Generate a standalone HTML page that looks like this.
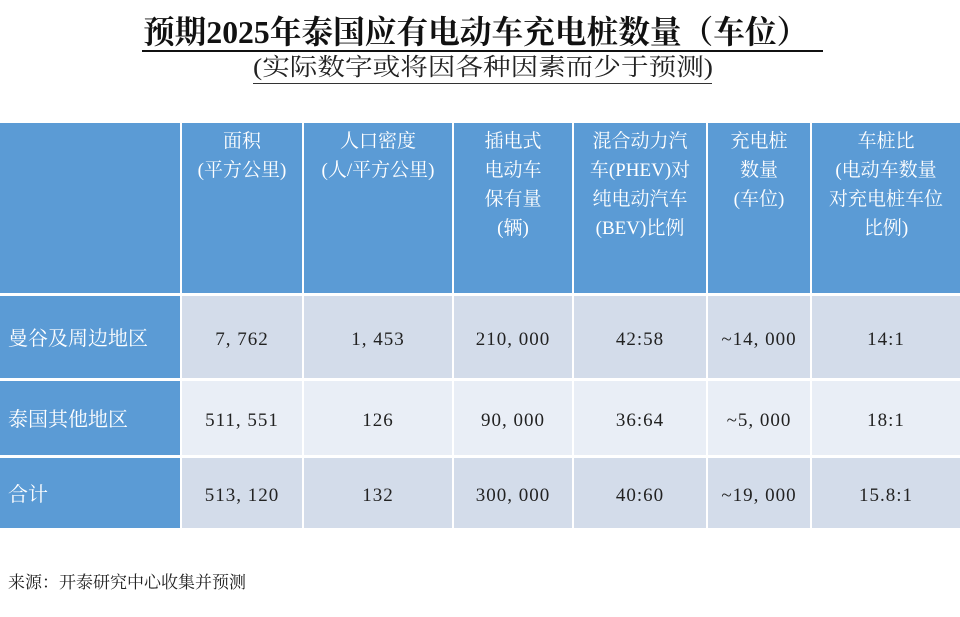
<!DOCTYPE html><html><head><meta charset="utf-8"><style>
body{margin:0;width:960px;height:617px;background:#fff;position:relative;overflow:hidden;font-family:"Liberation Serif","Noto Serif CJK SC",serif;}
.t{position:absolute;white-space:nowrap;transform-origin:left top;}
.c{position:absolute;display:flex;align-items:center;justify-content:center;text-align:center;font-size:19px;line-height:29px;color:#222;letter-spacing:1px;padding-top:4px;box-sizing:border-box;}
.h{background:#5b9bd5;color:#fff;align-items:flex-start;padding-top:4px;box-sizing:border-box;letter-spacing:0;}
.f{background:#5b9bd5;color:#fff;justify-content:flex-start;padding-left:8px;box-sizing:border-box;font-size:20px;letter-spacing:0;}
.a{background:#d3dcea}.b{background:#e9eef6}
</style></head><body>
<div class="t" style="left:143px;top:14px;font-size:32px;line-height:36px;color:#111;transform:scaleX(0.99);font-weight:bold">预期2025年泰国应有电动车充电桩数量（车位）</div>
<div style="position:absolute;left:142px;top:50px;width:681px;height:2px;background:#111"></div>
<div class="t" style="left:253px;top:54px;font-size:24px;line-height:28px;color:#222;transform:scaleX(1.15)">(实际数字或将因各种因素而少于预测)</div>
<div style="position:absolute;left:253px;top:83px;width:459px;height:1px;background:#333"></div>

<div class="c h" style="left:0;top:123px;width:180px;height:170px"></div>
<div class="c h" style="left:182px;top:123px;width:120px;height:170px">面积<br>(平方公里)</div>
<div class="c h" style="left:304px;top:123px;width:148px;height:170px">人口密度<br>(人/平方公里)</div>
<div class="c h" style="left:454px;top:123px;width:118px;height:170px">插电式<br>电动车<br>保有量<br>(辆)</div>
<div class="c h" style="left:574px;top:123px;width:132px;height:170px">混合动力汽<br>车(PHEV)对<br>纯电动汽车<br>(BEV)比例</div>
<div class="c h" style="left:708px;top:123px;width:102px;height:170px">充电桩<br>数量<br>(车位)</div>
<div class="c h" style="left:812px;top:123px;width:148px;height:170px">车桩比<br>(电动车数量<br>对充电桩车位<br>比例)</div>

<div class="c f" style="left:0;top:296px;width:180px;height:82px">曼谷及周边地区</div>
<div class="c a" style="left:182px;top:296px;width:120px;height:82px">7, 762</div>
<div class="c a" style="left:304px;top:296px;width:148px;height:82px">1, 453</div>
<div class="c a" style="left:454px;top:296px;width:118px;height:82px">210, 000</div>
<div class="c a" style="left:574px;top:296px;width:132px;height:82px">42:58</div>
<div class="c a" style="left:708px;top:296px;width:102px;height:82px">~14, 000</div>
<div class="c a" style="left:812px;top:296px;width:148px;height:82px">14:1</div>

<div class="c f" style="left:0;top:381px;width:180px;height:74px">泰国其他地区</div>
<div class="c b" style="left:182px;top:381px;width:120px;height:74px">511, 551</div>
<div class="c b" style="left:304px;top:381px;width:148px;height:74px">126</div>
<div class="c b" style="left:454px;top:381px;width:118px;height:74px">90, 000</div>
<div class="c b" style="left:574px;top:381px;width:132px;height:74px">36:64</div>
<div class="c b" style="left:708px;top:381px;width:102px;height:74px">~5, 000</div>
<div class="c b" style="left:812px;top:381px;width:148px;height:74px">18:1</div>

<div class="c f" style="left:0;top:458px;width:180px;height:70px">合计</div>
<div class="c a" style="left:182px;top:458px;width:120px;height:70px">513, 120</div>
<div class="c a" style="left:304px;top:458px;width:148px;height:70px">132</div>
<div class="c a" style="left:454px;top:458px;width:118px;height:70px">300, 000</div>
<div class="c a" style="left:574px;top:458px;width:132px;height:70px">40:60</div>
<div class="c a" style="left:708px;top:458px;width:102px;height:70px">~19, 000</div>
<div class="c a" style="left:812px;top:458px;width:148px;height:70px">15.8:1</div>

<div class="t" style="left:8px;top:572px;font-size:17px;line-height:22px;color:#222">来源：开泰研究中心收集并预测</div>
</body></html>
